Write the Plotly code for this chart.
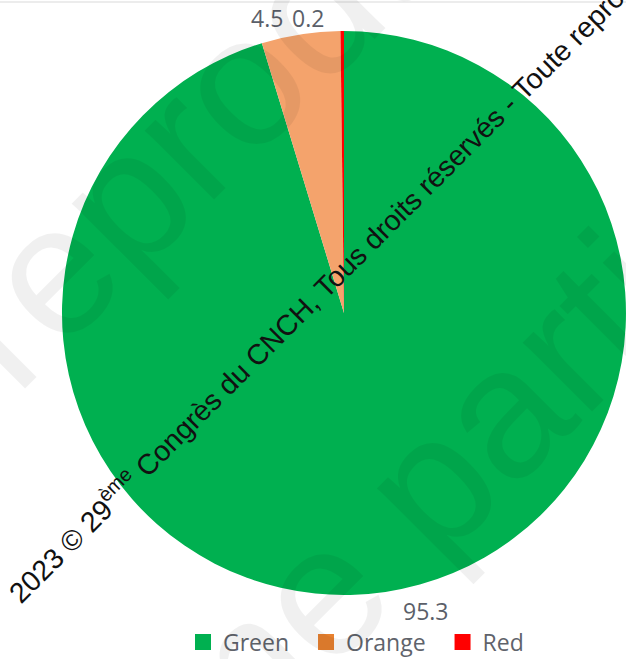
import math
import plotly.graph_objects as go

# Slice data
categories = ["Green", "Orange", "Red"]
values = [95.3, 4.5, 0.2]
slice_colors = ["#00b050", "#f4a36c", "#ff0000"]
legend_colors = ["#00b050", "#e8812f", "#ff0000"]

W, H = 626, 659
M_T, M_B = 31, 64
DOM_X = [0.099, 1.0]
label_font = dict(family="Open Sans, Noto Sans, sans-serif", size=23, color="#5b5f69")

# pie geometry in pixels (domain -> plot area)
cx = (DOM_X[0] + DOM_X[1]) / 2 * W
ph = H - M_T - M_B
cy = M_T + ph / 2
R = min((DOM_X[1] - DOM_X[0]) * W, ph) / 2


def paper_xy(px, py):
    return px / W, (H - M_B - py) / ph


fig = go.Figure()

fig.add_trace(go.Pie(
    labels=categories,
    values=values,
    sort=False,
    direction="clockwise",
    rotation=0,
    marker=dict(colors=slice_colors, line=dict(width=0)),
    textinfo="none",
    showlegend=False,
    domain=dict(x=DOM_X, y=[0.0, 1.0]),
    hoverinfo="label+value",
))

# Legend entries with square swatches
pad = "\u00a0\u00a0"
for i, (name, col) in enumerate(zip(categories, legend_colors)):
    fig.add_trace(go.Scatter(
        x=[None], y=[None], mode="markers",
        name=name + (pad if i < len(categories) - 1 else ""),
        marker=dict(symbol="square", size=22, color=col),
    ))

annotations = []

# value labels placed just outside each slice: above the pie for top slices,
# below it for the bottom one
total = sum(values)
start = 0.0
for v in values:
    mid = (start + v / 2) / total * 2 * math.pi
    start += v
    s, c = math.sin(mid), math.cos(mid)
    right_side = s >= 0
    ax = cx + R * s + (16 if right_side else -16)
    ay = cy - (R + 13) * (1 if c >= 0 else -1) + (0 if c >= 0 else 3)
    x, y = paper_xy(ax, ay)
    annotations.append(dict(
        text=f"{v}", x=x, y=y, xref="paper", yref="paper",
        xanchor="left" if right_side else "right", yanchor="middle",
        showarrow=False, font=label_font,
    ))

# Large faint background watermark
for text, (wx, wy) in [("Toute reproduction", (156, 167)), ("même partielle", (421, 492))]:
    x, y = paper_xy(wx, wy)
    annotations.append(dict(
        text=text, x=x, y=y, xref="paper", yref="paper",
        xanchor="center", yanchor="middle", showarrow=False, textangle=-45,
        font=dict(family="Liberation Sans, Arial, sans-serif", size=185,
                  color="rgba(0,0,0,0.06)"),
    ))

# Copyright line across the chart
x, y = paper_xy(386, 223)
annotations.append(dict(
    text="2023 © 29<sup>ème</sup> Congrès du CNCH, Tous droits réservés - Toute reproduction interdite",
    x=x, y=y, xref="paper", yref="paper", xanchor="center", yanchor="middle",
    showarrow=False, textangle=-45,
    font=dict(family="Liberation Sans, Arial, sans-serif", size=28.5, color="#111111"),
))

lx, ly = paper_xy(183, 642)
top_y = paper_xy(0, 2)[1]

fig.update_layout(
    width=W, height=H,
    margin=dict(l=0, r=0, t=M_T, b=M_B, autoexpand=False),
    paper_bgcolor="white", plot_bgcolor="white",
    xaxis=dict(visible=False), yaxis=dict(visible=False),
    showlegend=True,
    legend=dict(
        orientation="h", x=lx, y=ly, xanchor="left", yanchor="middle",
        font=dict(family="Open Sans, Noto Sans, sans-serif", size=23, color="#5f636b"),
        bgcolor="rgba(0,0,0,0)", itemclick=False, borderwidth=0,
    ),
    annotations=annotations,
    shapes=[dict(type="line", xref="paper", yref="paper", x0=0, x1=1,
                 y0=top_y, y1=top_y, line=dict(color="#ececec", width=2))],
)

fig.write_html("out.html")
